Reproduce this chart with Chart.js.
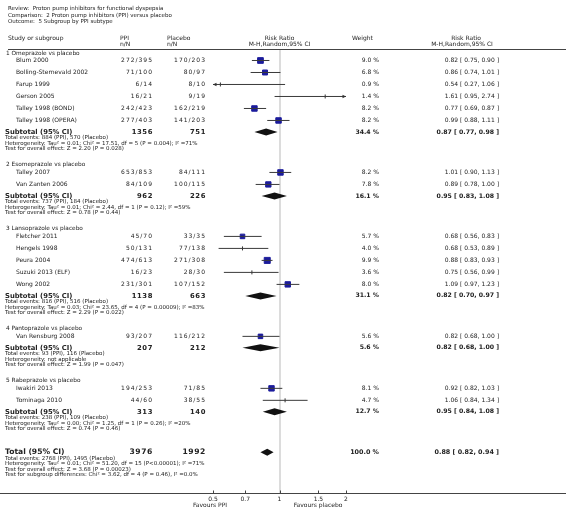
<!DOCTYPE html>
<html>
<head>
<meta charset="utf-8">
<script src="https://cdn.jsdelivr.net/npm/chart.js@4.4.1/dist/chart.umd.min.js"></script>
<style>
  html, body { margin: 0; padding: 0; background: #fff; }
  canvas { display: block; }
</style>
</head>
<body>
<canvas id="forest" width="566" height="511"></canvas>
<script>
// ---- data ----
const titleLines = [
    'Review:  Proton pump inhibitors for functional dyspepsia',
    'Comparison:  2 Proton pump inhibitors (PPI) versus placebo',
    'Outcome:  5 Subgroup by PPI subtype'
];

const subgroupNames = [
    '1 Omeprazole vs placebo',
    '2 Esomeprazole vs placebo',
    '3 Lansoprazole vs placebo',
    '4 Pantoprazole vs placebo',
    '5 Rabeprazole vs placebo'
];

const studyGroup = [0, 0, 0, 0, 0, 0, 1, 1, 2, 2, 2, 2, 2, 3, 4, 4];
const studyNames = [
    'Blum 2000', 'Bolling-Sternevald 2002', 'Farup 1999', 'Gerson 2005',
    'Talley 1998 (BOND)', 'Talley 1998 (OPERA)',
    'Talley 2007', 'Van Zanten 2006',
    'Fletcher 2011', 'Hengels 1998', 'Peura 2004', 'Suzuki 2013 (ELF)', 'Wong 2002',
    'Van Rensburg 2008',
    'Iwakiri 2013', 'Tominaga 2010'
];
const ppiCounts = ['272/395', '71/100', '6/14', '16/21', '242/423', '277/403',
    '653/853', '84/109', '45/70', '50/131', '474/613', '16/23', '231/301',
    '93/207', '194/253', '44/60'];
const placeboCounts = ['170/203', '80/97', '8/10', '9/19', '162/219', '141/203',
    '84/111', '100/115', '33/35', '77/138', '271/308', '28/30', '107/152',
    '116/212', '71/85', '38/55'];
const studyWeights = [9.0, 6.8, 0.9, 1.4, 8.2, 8.2, 8.2, 7.8, 5.7, 4.0, 9.9, 3.6, 8.0, 5.6, 8.1, 4.7];
const studyRR = [0.82, 0.86, 0.54, 1.61, 0.77, 0.99, 1.01, 0.89, 0.68, 0.68, 0.88, 0.75, 1.09, 0.82, 0.92, 1.06];
const studyLower = [0.75, 0.74, 0.27, 0.95, 0.69, 0.88, 0.90, 0.78, 0.56, 0.53, 0.83, 0.56, 0.97, 0.68, 0.82, 0.84];
const studyUpper = [0.90, 1.01, 1.06, 2.74, 0.87, 1.11, 1.13, 1.00, 0.83, 0.89, 0.93, 0.99, 1.23, 1.00, 1.03, 1.34];

const subPPI = [1356, 962, 1138, 207, 313];
const subPlacebo = [751, 226, 663, 212, 140];
const subWeights = [34.4, 16.1, 31.1, 5.6, 12.7];
const subRR = [0.87, 0.95, 0.82, 0.82, 0.95];
const subLower = [0.77, 0.83, 0.70, 0.68, 0.84];
const subUpper = [0.98, 1.08, 0.97, 1.00, 1.08];
const subEvents = [
    'Total events: 884 (PPI), 570 (Placebo)',
    'Total events: 737 (PPI), 184 (Placebo)',
    'Total events: 816 (PPI), 516 (Placebo)',
    'Total events: 93 (PPI), 116 (Placebo)',
    'Total events: 238 (PPI), 109 (Placebo)'
];
const subHetero = [
    'Heterogeneity: Tau\u00b2 = 0.01; Chi\u00b2 = 17.51, df = 5 (P = 0.004); I\u00b2 =71%',
    'Heterogeneity: Tau\u00b2 = 0.01; Chi\u00b2 = 2.44, df = 1 (P = 0.12); I\u00b2 =59%',
    'Heterogeneity: Tau\u00b2 = 0.03; Chi\u00b2 = 23.65, df = 4 (P = 0.00009); I\u00b2 =83%',
    'Heterogeneity: not applicable',
    'Heterogeneity: Tau\u00b2 = 0.00; Chi\u00b2 = 1.25, df = 1 (P = 0.26); I\u00b2 =20%'
];
const subEffect = [
    'Test for overall effect: Z = 2.20 (P = 0.028)',
    'Test for overall effect: Z = 0.78 (P = 0.44)',
    'Test for overall effect: Z = 2.29 (P = 0.022)',
    'Test for overall effect: Z = 1.99 (P = 0.047)',
    'Test for overall effect: Z = 0.74 (P = 0.46)'
];

const totalPPI = 3976;
const totalPlacebo = 1992;
const totalWeight = 100.0;
const totalRR = 0.88;
const totalLower = 0.82;
const totalUpper = 0.94;
const totalNotes = [
    'Total events: 2768 (PPI), 1495 (Placebo)',
    'Heterogeneity: Tau\u00b2 = 0.01; Chi\u00b2 = 51.20, df = 15 (P<0.00001); I\u00b2 =71%',
    'Test for overall effect: Z = 3.68 (P = 0.00023)',
    'Test for subgroup differences: Chi\u00b2 = 3.62, df = 4 (P = 0.46), I\u00b2 =0.0%'
];

const axisTicks = [0.5, 0.7, 1, 1.5, 2];
const favourLabels = ['Favours PPI', 'Favours placebo'];

// ---- row layout (vertical positions in pixels) ----
const FONT = '"DejaVu Sans", Verdana, sans-serif';
const ROW = 12, SUB_GAP = 11.5, NEXT_GAP = 40.5, NOTE = 5.5;
const studyY = [], subY = [], labelY = [];
let cur = 60.5;
subgroupNames.forEach((name, g) => {
    labelY[g] = cur - 7.5;
    studyGroup.forEach((sg, i) => {
        if (sg === g) { studyY[i] = cur; cur += ROW; }
    });
    cur += SUB_GAP - ROW;
    subY[g] = cur;
    cur += NEXT_GAP;
});
const totalY = cur - NEXT_GAP + 40.5;

const fmtCI = (r, l, u) => `${r.toFixed(2)} [ ${l.toFixed(2)}, ${u.toFixed(2)} ]`;
const fmtW = w => `${w.toFixed(1)} %`;

// ---- datasets ----
const whiskers = studyNames.map((n, i) => ({
    type: 'scatter',
    showLine: true,
    data: [{ x: studyLower[i], y: studyY[i] }, { x: studyUpper[i], y: studyY[i] }],
    borderColor: '#3a3a3a',
    borderWidth: 1,
    pointRadius: 0
}));

const small = studyWeights.map(w => w < 5);
const squares = {
    type: 'scatter',
    data: studyRR.map((r, i) => ({ x: r, y: studyY[i] })),
    pointStyle: small.map(s => s ? 'line' : 'rect'),
    pointRotation: small.map(s => s ? 90 : 0),
    pointRadius: studyWeights.map(w => w < 5 ? 2 : 1.35 * Math.sqrt(w)),
    backgroundColor: small.map(s => s ? '#333' : '#1c1c9c'),
    borderColor: small.map(s => s ? '#333' : '#1c1c9c'),
    borderWidth: 1
};

function text(ctx, str, x, y, size, opts = {}) {
    ctx.save();
    ctx.font = `${opts.bold ? 'bold ' : ''}${size}px ${FONT}`;
    ctx.fillStyle = '#222';
    ctx.textAlign = opts.align || 'left';
    ctx.textBaseline = 'middle';
    if (opts.spacing) ctx.letterSpacing = opts.spacing + 'px';
    ctx.fillText(str, x, y);
    ctx.restore();
}

const forestPlugin = {
    id: 'forest',
    beforeDraw(chart) {
        const ctx = chart.ctx;
        ctx.save();
        ctx.fillStyle = '#fff';
        ctx.fillRect(0, 0, chart.width, chart.height);
        ctx.restore();
    },
    afterDatasetsDraw(chart) {
        const ctx = chart.ctx, xs = chart.scales.x, ys = chart.scales.y;
        const area = chart.chartArea;

        // diamonds for pooled estimates
        const diamond = (r, l, u, yv, h) => {
            const py = ys.getPixelForValue(yv);
            ctx.beginPath();
            ctx.moveTo(xs.getPixelForValue(l), py);
            ctx.lineTo(xs.getPixelForValue(r), py - h);
            ctx.lineTo(xs.getPixelForValue(u), py);
            ctx.lineTo(xs.getPixelForValue(r), py + h);
            ctx.closePath();
            ctx.fillStyle = '#111';
            ctx.fill();
        };
        ctx.save();
        subRR.forEach((r, g) => diamond(r, subLower[g], subUpper[g], subY[g], 3.5));
        diamond(totalRR, totalLower, totalUpper, totalY, 3.5);

        // arrows where a confidence interval runs off the scale
        ctx.fillStyle = '#333';
        studyNames.forEach((n, i) => {
            const py = ys.getPixelForValue(studyY[i]);
            if (studyLower[i] < xs.min) {
                ctx.beginPath();
                ctx.moveTo(area.left, py);
                ctx.lineTo(area.left + 3.5, py - 1.8);
                ctx.lineTo(area.left + 3.5, py + 1.8);
                ctx.fill();
            }
            if (studyUpper[i] > xs.max) {
                ctx.beginPath();
                ctx.moveTo(area.right, py);
                ctx.lineTo(area.right - 3.5, py - 1.8);
                ctx.lineTo(area.right - 3.5, py + 1.8);
                ctx.fill();
            }
        });

        // axis line across the page, with small tick marks
        const axisY = Math.round(area.bottom) + 0.5;
        ctx.strokeStyle = '#444';
        ctx.lineWidth = 1;
        ctx.beginPath();
        ctx.moveTo(0, axisY);
        ctx.lineTo(chart.width, axisY);
        xs.ticks.forEach(t => {
            const px = Math.round(xs.getPixelForValue(t.value)) + 0.5;
            ctx.moveTo(px, axisY);
            ctx.lineTo(px, axisY - 3);
        });
        // header rule
        ctx.moveTo(8, 49.5);
        ctx.lineTo(chart.width, 49.5);
        ctx.stroke();
        ctx.restore();
    },
    afterDraw(chart) {
        const ctx = chart.ctx, xs = chart.scales.x, ys = chart.scales.y;
        const X_NAME = 16, X_LEFT = 6, X_PPI = 153, X_PLA = 206, X_W = 379, X_CI = 499;

        titleLines.forEach((t, i) => text(ctx, t, 8, 9 + i * 6.5, 5.5));

        text(ctx, 'Study or subgroup', 8, 38, 6);
        text(ctx, 'PPI', 120, 38, 6);
        text(ctx, 'n/N', 120, 44, 6);
        text(ctx, 'Placebo', 167, 38, 6);
        text(ctx, 'n/N', 167, 44, 6);
        const mid = xs.getPixelForValue(1);
        text(ctx, 'Risk Ratio', mid, 38, 6, { align: 'center' });
        text(ctx, 'M-H,Random,95% CI', mid, 44, 6, { align: 'center' });
        text(ctx, 'Weight', 352, 38, 6);
        text(ctx, 'Risk Ratio', 466, 38, 6, { align: 'center' });
        text(ctx, 'M-H,Random,95% CI', 462, 44, 6, { align: 'center' });

        subgroupNames.forEach((name, g) => {
            text(ctx, name, X_LEFT, ys.getPixelForValue(labelY[g]), 5.8);
        });

        studyNames.forEach((name, i) => {
            const py = ys.getPixelForValue(studyY[i]);
            text(ctx, name, X_NAME, py, 6);
            text(ctx, ppiCounts[i], X_PPI, py, 6, { align: 'right', spacing: 1 });
            text(ctx, placeboCounts[i], X_PLA, py, 6, { align: 'right', spacing: 1 });
            text(ctx, fmtW(studyWeights[i]), X_W, py, 6, { align: 'right' });
            text(ctx, fmtCI(studyRR[i], studyLower[i], studyUpper[i]), X_CI, py, 6, { align: 'right' });
        });

        subgroupNames.forEach((name, g) => {
            const py = ys.getPixelForValue(subY[g]);
            text(ctx, 'Subtotal (95% CI)', 5, py, 6.8, { bold: true });
            text(ctx, String(subPPI[g]), X_PPI, py, 6.8, { bold: true, align: 'right', spacing: 0.6 });
            text(ctx, String(subPlacebo[g]), X_PLA, py, 6.8, { bold: true, align: 'right', spacing: 0.6 });
            text(ctx, fmtW(subWeights[g]), X_W, py, 6.2, { bold: true, align: 'right' });
            text(ctx, fmtCI(subRR[g], subLower[g], subUpper[g]), X_CI, py, 6.2, { bold: true, align: 'right' });
            [subEvents[g], subHetero[g], subEffect[g]].forEach((t, k) => {
                text(ctx, t, 5, ys.getPixelForValue(subY[g] + 6 + k * NOTE), 5.5);
            });
        });

        const ty = ys.getPixelForValue(totalY);
        text(ctx, 'Total (95% CI)', 5, ty, 7.6, { bold: true });
        text(ctx, String(totalPPI), X_PPI, ty, 7.6, { bold: true, align: 'right', spacing: 0.6 });
        text(ctx, String(totalPlacebo), X_PLA, ty, 7.6, { bold: true, align: 'right', spacing: 0.6 });
        text(ctx, fmtW(totalWeight), X_W, ty, 6.4, { bold: true, align: 'right' });
        text(ctx, fmtCI(totalRR, totalLower, totalUpper), X_CI, ty, 6.4, { bold: true, align: 'right' });
        totalNotes.forEach((t, k) => {
            text(ctx, t, 5, ys.getPixelForValue(totalY + 6 + k * NOTE), 5.5);
        });

        const fy = chart.chartArea.bottom + 13;
        text(ctx, favourLabels[0], 210, fy, 6, { align: 'center' });
        text(ctx, favourLabels[1], 318, fy, 6, { align: 'center' });
    }
};

new Chart(document.getElementById('forest'), {
    type: 'scatter',
    data: { datasets: [...whiskers, squares] },
    options: {
        responsive: false,
        animation: false,
        devicePixelRatio: 1,
        layout: { padding: { left: 213, right: 220, top: 49, bottom: 5 } },
        plugins: { legend: { display: false }, tooltip: { enabled: false } },
        scales: {
            x: {
                type: 'logarithmic',
                min: 0.5,
                max: 2,
                afterBuildTicks: axis => { axis.ticks = axisTicks.map(v => ({ value: v })); },
                grid: {
                    drawTicks: false,
                    lineWidth: 2,
                    color: c => (c.tick && c.tick.value === 1) ? '#dcdcdc' : 'rgba(0,0,0,0)'
                },
                border: { display: false },
                ticks: {
                    padding: 3,
                    autoSkip: false,
                    maxRotation: 0,
                    color: '#222',
                    font: { family: FONT, size: 6 },
                    callback: v => String(v)
                }
            },
            y: { type: 'linear', display: false, reverse: true, min: 49, max: 493 }
        }
    },
    plugins: [forestPlugin]
});
</script>
</body>
</html>
